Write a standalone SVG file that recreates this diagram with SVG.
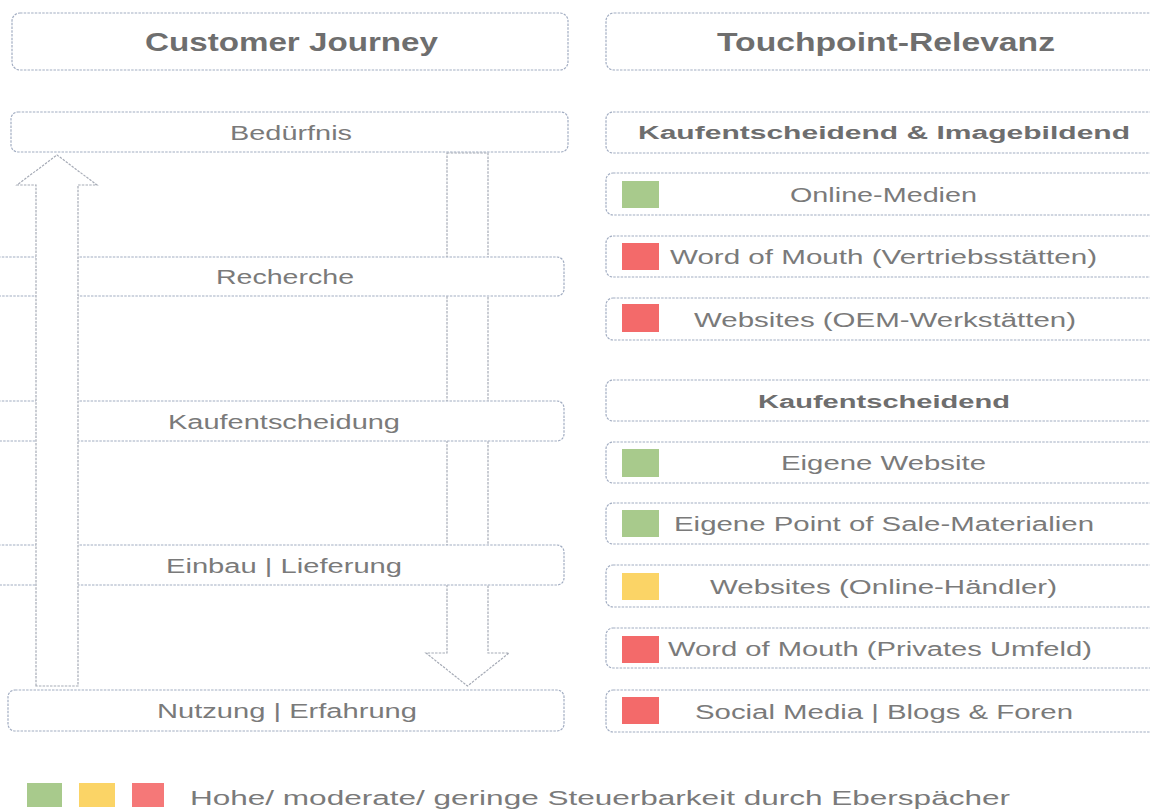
<svg xmlns="http://www.w3.org/2000/svg" width="1150" height="809" viewBox="0 0 1150 809">
<style>
.box{fill:#ffffff;stroke:#a2adc2;stroke-width:1.2;stroke-dasharray:2.5 1.2}
.arr{stroke:#a6abb6;stroke-width:1.2;stroke-dasharray:2.5 1.2}
text{font-family:"Liberation Sans",Arial,Helvetica,sans-serif;fill:#7a7a7a;text-anchor:middle}
.t{font-size:25px;font-weight:bold;fill:#6e6e6e}
.h{font-size:18px;font-weight:bold;fill:#6e6e6e}
.l{font-size:20px}
.g{fill:#a8ca8c}
.y{fill:#fbd466}
.r{fill:#f36a6a}
</style>
<defs>
<mask id="downMask" maskUnits="userSpaceOnUse" x="0" y="0" width="1150" height="809">
<rect x="0" y="0" width="1150" height="809" fill="#fff"/>
<rect x="430" y="257" width="80" height="39" fill="#000"/>
<rect x="430" y="401" width="80" height="40" fill="#000"/>
<rect x="430" y="545" width="80" height="40" fill="#000"/>
</mask>
</defs>
<rect width="1150" height="809" fill="#ffffff"/>

<g id="customer-journey"><rect class="box" x="12" y="13" width="556" height="57" rx="8"/><text class="t" x="291.5" y="51" textLength="293" lengthAdjust="spacingAndGlyphs">Customer Journey</text></g>
<g id="touchpoint-relevanz"><rect class="box" x="606" y="13" width="570" height="57" rx="8"/><text class="t" x="886" y="51" textLength="338" lengthAdjust="spacingAndGlyphs">Touchpoint-Relevanz</text></g>

<g id="beduerfnis"><rect class="box" x="11" y="112" width="557" height="40" rx="7"/><text class="l" x="291" y="139.5" textLength="122" lengthAdjust="spacingAndGlyphs">Bedürfnis</text></g>
<g id="recherche"><rect class="box" x="-20" y="257" width="584" height="39" rx="7"/><text class="l" x="285" y="284" textLength="138" lengthAdjust="spacingAndGlyphs">Recherche</text></g>
<g id="kaufentscheidung"><rect class="box" x="-20" y="401" width="584" height="40" rx="7"/><text class="l" x="284" y="428.5" textLength="232" lengthAdjust="spacingAndGlyphs">Kaufentscheidung</text></g>
<g id="einbau-lieferung"><rect class="box" x="-20" y="545" width="584" height="40" rx="7"/><text class="l" x="284" y="572.5" textLength="236" lengthAdjust="spacingAndGlyphs">Einbau | Lieferung</text></g>
<g id="nutzung-erfahrung"><rect class="box" x="8" y="690" width="556" height="41" rx="7"/><text class="l" x="287" y="718" textLength="260" lengthAdjust="spacingAndGlyphs">Nutzung | Erfahrung</text></g>

<g id="kaufentscheidend-imagebildend"><rect class="box" x="606" y="112" width="570" height="41" rx="7"/><text class="h" x="884" y="139" textLength="492" lengthAdjust="spacingAndGlyphs">Kaufentscheidend &amp; Imagebildend</text></g>
<g id="online-medien"><rect class="box" x="606" y="173" width="570" height="42" rx="7"/><rect class="g" x="622" y="181" width="37" height="27"/><text class="l" x="883.5" y="201.5" textLength="187" lengthAdjust="spacingAndGlyphs">Online-Medien</text></g>
<g id="wom-vertriebsstaetten"><rect class="box" x="606" y="236" width="570" height="41" rx="7"/><rect class="r" x="622" y="243" width="37" height="27"/><text class="l" x="883.5" y="264" textLength="427" lengthAdjust="spacingAndGlyphs">Word of Mouth (Vertriebsstätten)</text></g>
<g id="websites-oem"><rect class="box" x="606" y="298" width="570" height="42" rx="7"/><rect class="r" x="622" y="304" width="37" height="28"/><text class="l" x="885" y="326.5" textLength="382" lengthAdjust="spacingAndGlyphs">Websites (OEM-Werkstätten)</text></g>

<g id="kaufentscheidend"><rect class="box" x="606" y="380" width="570" height="41" rx="7"/><text class="h" x="884" y="407.5" textLength="252" lengthAdjust="spacingAndGlyphs">Kaufentscheidend</text></g>
<g id="eigene-website"><rect class="box" x="606" y="442" width="570" height="41" rx="7"/><rect class="g" x="622" y="449" width="37" height="28"/><text class="l" x="883.5" y="469.5" textLength="205" lengthAdjust="spacingAndGlyphs">Eigene Website</text></g>
<g id="eigene-pos"><rect class="box" x="606" y="503" width="570" height="41" rx="7"/><rect class="g" x="622" y="510" width="37" height="27"/><text class="l" x="884" y="530.5" textLength="420" lengthAdjust="spacingAndGlyphs">Eigene Point of Sale-Materialien</text></g>
<g id="websites-online-haendler"><rect class="box" x="606" y="565" width="570" height="42" rx="7"/><rect class="y" x="622" y="573" width="37" height="27"/><text class="l" x="883.5" y="593.5" textLength="347" lengthAdjust="spacingAndGlyphs">Websites (Online-Händler)</text></g>
<g id="wom-privates-umfeld"><rect class="box" x="606" y="628" width="570" height="40" rx="7"/><rect class="r" x="622" y="636" width="37" height="27"/><text class="l" x="880" y="655.5" textLength="424" lengthAdjust="spacingAndGlyphs">Word of Mouth (Privates Umfeld)</text></g>
<g id="social-media"><rect class="box" x="606" y="690" width="570" height="42" rx="7"/><rect class="r" x="622" y="697" width="37" height="27"/><text class="l" x="884" y="718.5" textLength="378" lengthAdjust="spacingAndGlyphs">Social Media | Blogs &amp; Foren</text></g>

<g id="connectors">
<path class="arr" fill="none" mask="url(#downMask)" d="M447,153 H488 V653 H509 L467.5,686 L426,653 H447 Z"/>
<path class="arr" fill="#ffffff" d="M36,686 V185 H17 L57,155 L97,185 H78 V686 Z"/>
</g>

<g id="legend">
<rect class="g" x="27" y="783" width="35" height="24"/>
<rect class="y" x="79" y="783" width="36" height="24"/>
<rect x="132" y="783" width="32" height="24" fill="#f57878"/>
<text x="190" y="805" style="text-anchor:start;font-size:20px" textLength="820" lengthAdjust="spacingAndGlyphs">Hohe/ moderate/ geringe Steuerbarkeit durch Eberspächer</text>
</g>
</svg>
